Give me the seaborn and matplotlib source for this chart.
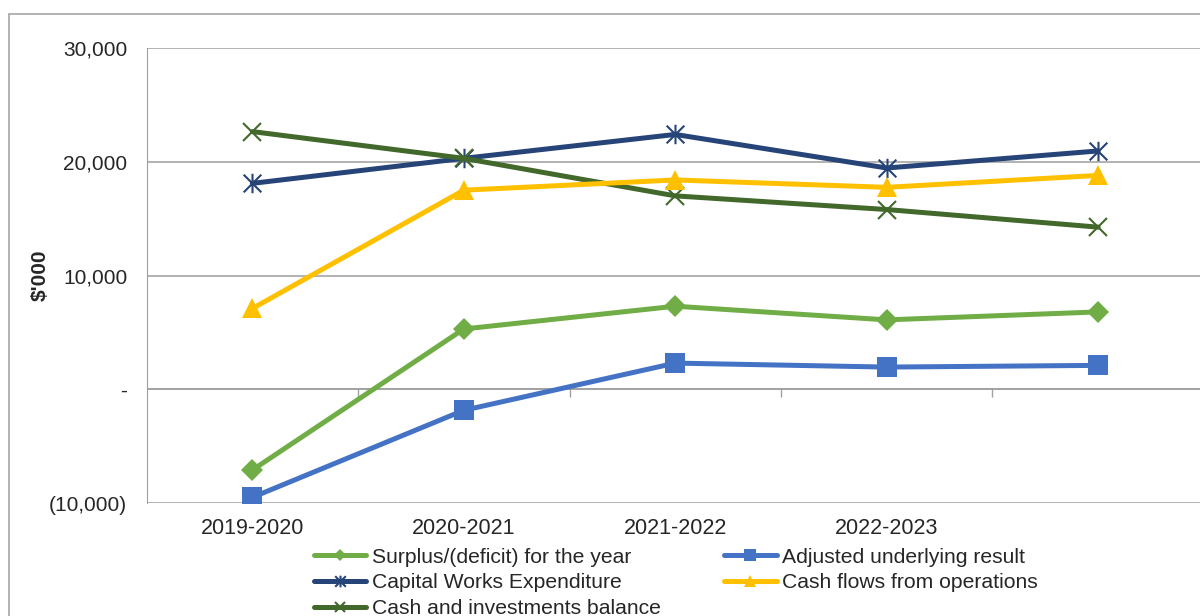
import numpy as np
import pandas as pd
import matplotlib.pyplot as plt
import matplotlib.patches as patches
from matplotlib.path import Path
import seaborn as sns

anios = ['2019-2020', '2020-2021', '2021-2022', '2022-2023', '']
superavit = [-7100, 5300, 7300, 6100, 6800]
resultado_ajustado = [-9500, -1850, 2300, 1950, 2100]
obras_capital = [18100, 20300, 22400, 19450, 20950]
flujos_caja = [7100, 17500, 18400, 17750, 18800]
caja_inversiones = [22650, 20300, 17000, 15800, 14250]

# estrella estilo Excel: una X con una barra vertical
estrella = Path([(-1, -1), (1, 1), (-1, 1), (1, -1), (0, -1.1), (0, 1.1)],
                [Path.MOVETO, Path.LINETO, Path.MOVETO, Path.LINETO, Path.MOVETO, Path.LINETO])

series = [
    ('Surplus/(deficit) for the year', superavit, '#70AD47', 'D', 11),
    ('Capital Works Expenditure', obras_capital, '#264478', estrella, 14),
    ('Cash and investments balance', caja_inversiones, '#43682B', 'x', 13),
    ('Adjusted underlying result', resultado_ajustado, '#4472C4', 's', 14),
    ('Cash flows from operations', flujos_caja, '#FFC000', '^', 15),
]

sns.set_style('white')
plt.rcParams['font.family'] = ['Liberation Sans', 'DejaVu Sans']

fig = plt.figure(figsize=(12, 6.16), dpi=100)
ax = fig.add_axes([0.1222, 0.1834, 0.881, 0.7387])

pos = np.arange(len(anios))
for nombre, valores, color, marca, tam in series:
    abierto = marca is estrella or marca == 'x'
    sns.lineplot(x=pos, y=valores, ax=ax, color=color, linewidth=3.6, label=nombre,
                 marker=marca, markersize=tam,
                 markeredgecolor=color, markerfacecolor=color if not abierto else 'none',
                 markeredgewidth=1.5 if abierto else 0)

ax.set_xlim(-0.5, 4.5)
ax.set_ylim(-10000, 30000)
ax.set_yticks([-10000, 0, 10000, 20000, 30000])
ax.set_yticklabels(['(10,000)', '-', '10,000', '20,000', '30,000'])
ax.set_xticks(pos[:4])
ax.set_xticklabels(anios[:4])
ax.tick_params(axis='x', length=0, pad=11, labelsize=15.5)
ax.tick_params(axis='y', length=6, color='#a0a0a0', width=1, pad=8, labelsize=15)
ax.grid(axis='y', color='#a6a6a6', linewidth=1.2)
for lado in ['top', 'right', 'bottom']:
    ax.spines[lado].set_visible(False)
ax.spines['left'].set_color('#a0a0a0')
ax.axhline(0, color='#a0a0a0', linewidth=1.2, zorder=1)

# marcas entre categorias sobre la linea del cero
eje_cero = ax.secondary_xaxis(0.25)
eje_cero.set_xticks([0.5, 1.5, 2.5, 3.5])
eje_cero.set_xticklabels([])
eje_cero.tick_params(length=6, color='#a0a0a0', width=1)
eje_cero.spines['bottom'].set_visible(False)

ax.set_ylabel("\\$'000", fontsize=15, fontweight='bold')
ax.yaxis.set_label_coords(-0.092, 0.5)

# el borde del cuadro
fig.patches.append(patches.Rectangle((9 / 1200, -0.1), 1.2, 1 - 14 / 616 + 0.1,
                                     transform=fig.transFigure, fill=False,
                                     edgecolor='#a6a6a6', linewidth=1.2))

ax.legend(loc='upper left', bbox_to_anchor=(303 / 1200, 1 - 537 / 616),
          bbox_transform=fig.transFigure, ncol=2, frameon=False, fontsize=15.2,
          handlelength=2.5, handletextpad=0.25, columnspacing=3.0,
          labelspacing=0.32, borderpad=0, markerscale=0.6)

fig.savefig('out.png', dpi=100)
